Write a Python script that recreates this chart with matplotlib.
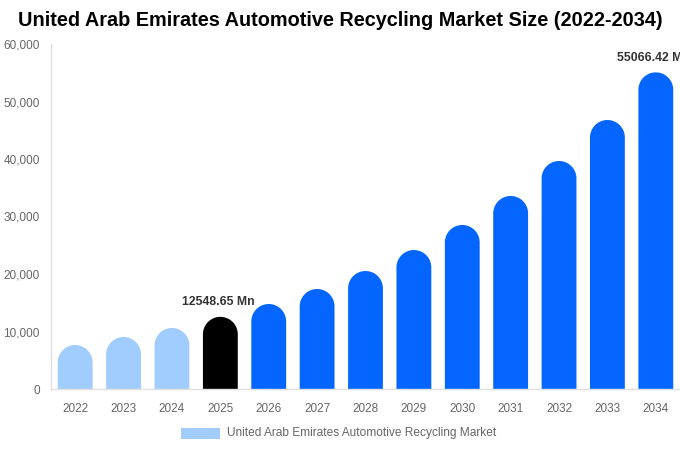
import matplotlib
matplotlib.use("Agg")
import numpy as np
import matplotlib.pyplot as plt
from matplotlib.patches import Rectangle, Polygon

years = ["2022", "2023", "2024", "2025", "2026", "2027", "2028", "2029",
         "2030", "2031", "2032", "2033", "2034"]
values = [7650, 9040, 10610, 12548.65, 14780, 17390, 20520, 24170,
          28520, 33570, 39650, 46780, 55066.42]
colors = ["#a0cdfd"] * 3 + ["#000000"] + ["#0466fe"] * 9
labels = {3: "12548.65 Mn", 12: "55066.42 Mn"}
yticks = [0, 10000, 20000, 30000, 40000, 50000, 60000]
title = "United Arab Emirates Automotive Recycling Market Size (2022-2034)"
legend_label = "United Arab Emirates Automotive Recycling Market"

plt.rcParams['font.family'] = ['Liberation Sans', 'DejaVu Sans']
W, H = 680, 450
fig = plt.figure(figsize=(W / 100, H / 100), dpi=100)
ax_l, ax_r, ax_t, ax_b = 51, 680, 44, 389
ax = fig.add_axes([ax_l / W, (H - ax_b) / H, (ax_r - ax_l) / W, (ax_b - ax_t) / H])
n = len(years)
ax.set_xlim(-0.5, n - 0.5)
ax.set_ylim(0, 60000)

bw = 0.72
px_per_x = (ax_r - ax_l) / n
px_per_y = (ax_b - ax_t) / 60000
r_px = bw * px_per_x / 2
r_y = r_px / px_per_y

theta = np.linspace(0, np.pi, 60)
for i, (v, c) in enumerate(zip(values, colors)):
    top = v - r_y
    arc_x = i + (bw / 2) * np.cos(theta)
    arc_y = top + r_y * np.sin(theta)
    xs = np.concatenate([[i + bw / 2], arc_x, [i - bw / 2]])
    ys = np.concatenate([[0], arc_y, [0]])
    ax.add_patch(Polygon(np.column_stack([xs, ys]), closed=True,
                         facecolor=c, edgecolor='none'))
    if i in labels:
        ax.text(i - 0.04, v + 1500, labels[i], ha='center', va='bottom', fontsize=8.8,
                fontweight='bold', color='#333333', clip_on=False)

ax.set_xticks(range(n))
ax.set_xticklabels(years)
ax.set_yticks(yticks)
ax.set_yticklabels([f"{t:,}" for t in yticks])
ax.tick_params(axis='both', length=0, labelsize=8.5, colors='#666666')
ax.tick_params(axis='x', pad=10)
ax.tick_params(axis='y', pad=8)
for s in ['top', 'right']:
    ax.spines[s].set_visible(False)
for s in ['left', 'bottom']:
    ax.spines[s].set_color('#e0e0e0')
    ax.spines[s].set_linewidth(1)

fig.text(340 / W, 1 - 21 / H, title, ha='center', va='center', fontsize=14.3,
         fontweight='bold', color='#000000')

fig.patches.append(Rectangle((181 / W, 1 - 439 / H), 39 / W, 11 / H,
                             transform=fig.transFigure, facecolor='#a0cdfd',
                             edgecolor='none'))
fig.text(227 / W, 1 - 433 / H, legend_label, ha='left', va='center',
         fontsize=8.6, color='#666666')

fig.savefig("out.png", dpi=100)
